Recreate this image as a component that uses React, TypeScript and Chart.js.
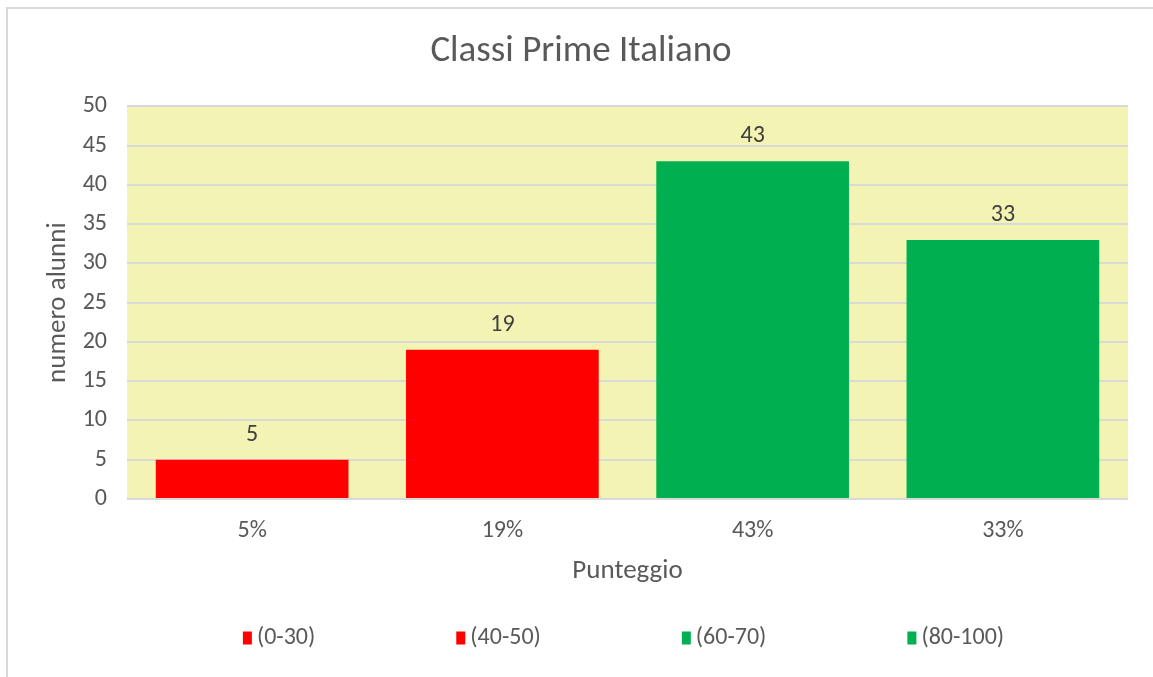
import React, { useEffect, useRef } from "react";
import { Chart, registerables } from "chart.js";

Chart.register(...registerables);

const categories = ["5%", "19%", "43%", "33%"];
const seriesNames = ["(0-30)", "(40-50)", "(60-70)", "(80-100)"];
const seriesValues: (number | null)[][] = [
  [5, null, null, null],
  [null, 19, null, null],
  [null, null, 43, null],
  [null, null, null, 33],
];
const seriesColors = ["#ff0000", "#ff0000", "#00b050", "#00b050"];
const yTicks = { min: 0, max: 50, step: 5 };
const chartTitle = "Classi Prime Italiano";
const yTitle = "numero alunni";
const xTitle = "Punteggio";

const FONT = "Carlito, Lato, 'Open Sans', sans-serif";
const TEXT = "#595959";

const plotBg = {
  id: "plotBg",
  beforeDraw(chart: any) {
    const { ctx, chartArea: a } = chart;
    ctx.save();
    ctx.fillStyle = "#f3f4b4";
    ctx.fillRect(a.left, a.top, a.right - a.left, a.bottom - a.top);
    ctx.restore();
  },
};

const dataLabels = {
  id: "dataLabels",
  afterDatasetsDraw(chart: any) {
    const { ctx } = chart;
    ctx.save();
    ctx.font = `24px ${FONT}`;
    ctx.fillStyle = "#404040";
    ctx.textAlign = "center";
    ctx.textBaseline = "middle";
    chart.data.datasets.forEach((ds: any, i: number) => {
      const meta = chart.getDatasetMeta(i);
      meta.data.forEach((el: any, j: number) => {
        const v = ds.data[j];
        if (v === null || v === undefined) return;
        ctx.fillText(String(v), el.x, el.y - 25);
      });
    });
    ctx.restore();
  },
};

const customLegend = {
  id: "customLegend",
  afterDraw(chart: any) {
    const { ctx, chartArea: a } = chart;
    const boxW = 9;
    const boxH = 13;
    const gapBoxText = 5;
    const gapItems = 141;
    const cy = 629;
    ctx.save();
    ctx.font = `24px ${FONT}`;
    const widths = seriesNames.map((n) => ctx.measureText(n).width);
    const total =
      widths.reduce((s, w) => s + boxW + gapBoxText + w, 0) +
      gapItems * (seriesNames.length - 1);
    let x = (a.left + a.right) / 2 - 4 - total / 2;
    ctx.textBaseline = "middle";
    ctx.textAlign = "left";
    seriesNames.forEach((n, i) => {
      ctx.fillStyle = seriesColors[i];
      ctx.fillRect(x, cy - boxH / 2, boxW, boxH);
      ctx.fillStyle = TEXT;
      ctx.fillText(n, x + boxW + gapBoxText, cy);
      x += boxW + gapBoxText + widths[i] + gapItems;
    });
    ctx.restore();
  },
};

export default function App() {
  const ref = useRef<HTMLCanvasElement>(null);

  useEffect(() => {
    if (!ref.current) return;
    const chart = new Chart(ref.current, {
      type: "bar",
      data: {
        labels: categories,
        datasets: seriesNames.map((name, i) => ({
          label: name,
          data: seriesValues[i],
          backgroundColor: seriesColors[i],
          borderWidth: 0,
          categoryPercentage: 1,
          barPercentage: 0.77,
          skipNull: true,
        })),
      },
      options: {
        animation: false,
        responsive: false,
        devicePixelRatio: 1,
        layout: { padding: { top: 0, right: 25, bottom: 78, left: 26 } },
        plugins: {
          legend: { display: false },
          tooltip: { enabled: false },
          title: {
            display: true,
            text: chartTitle,
            color: TEXT,
            font: { family: FONT, size: 37, weight: "normal" },
            padding: { top: 21, bottom: 32 },
          },
        },
        scales: {
          x: {
            grid: { display: false, drawTicks: false },
            border: { display: false },
            ticks: {
              color: TEXT,
              font: { family: FONT, size: 24 },
              padding: 18,
            },
            title: {
              display: true,
              text: xTitle,
              color: TEXT,
              font: { family: FONT, size: 27 },
              padding: { top: 0, bottom: 12 },
            },
            afterFit(scale: any) {
              scale.height = 100;
            },
          },
          y: {
            min: yTicks.min,
            max: yTicks.max,
            grid: { color: "#d9d9d9", lineWidth: 2, drawTicks: false },
            border: { display: false },
            ticks: {
              stepSize: yTicks.step,
              color: TEXT,
              font: { family: FONT, size: 24 },
              padding: 20,
            },
            title: {
              display: true,
              text: yTitle,
              color: TEXT,
              font: { family: FONT, size: 27 },
              padding: { top: 8, bottom: 0 },
            },
            afterFit(scale: any) {
              scale.width = 93;
            },
          },
        },
      },
      plugins: [plotBg, dataLabels, customLegend],
    });
    return () => chart.destroy();
  }, []);

  return (
    <div
      style={{
        position: "fixed",
        left: 0,
        top: 0,
        width: 1153,
        height: 677,
        overflow: "hidden",
        background: "#ffffff",
      }}
    >
      <div
        style={{
          position: "absolute",
          left: 6,
          top: 7,
          width: 1300,
          height: 800,
          border: "2px solid #d9d9d9",
          boxSizing: "border-box",
        }}
      />
      <canvas
        ref={ref}
        width={1145}
        height={668}
        style={{ position: "absolute", left: 8, top: 9, width: 1145, height: 668 }}
      />
    </div>
  );
}
